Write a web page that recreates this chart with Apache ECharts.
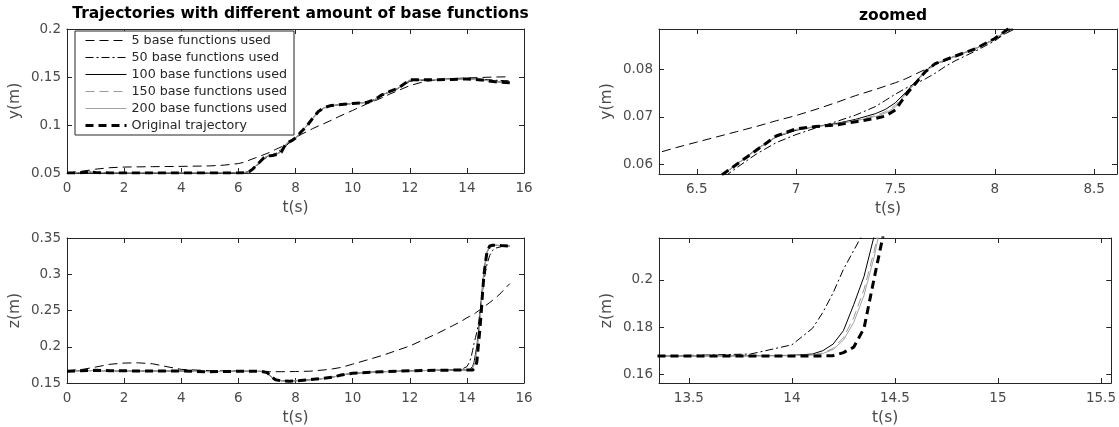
<!DOCTYPE html>
<html>
<head>
<meta charset="utf-8">
<title>Trajectories with different amount of base functions</title>
<script src="https://cdn.jsdelivr.net/npm/echarts@6/dist/echarts.min.js"></script>
<style>
  html, body { margin: 0; padding: 0; background: #fff; }
  #chart { width: 1119px; height: 427px; }
</style>
</head>
<body>
<div id="chart"></div>
<script>
// time samples (s) for the y(m) curves
const tY = [0, 0.5, 0.8, 1.0, 1.5, 2, 3, 4, 5, 5.5,
  6, 6.2, 6.4, 6.5, 6.6, 6.7, 6.8, 6.9, 7.0, 7.1,
  7.2, 7.3, 7.4, 7.45, 7.5, 7.55, 7.6, 7.65, 7.7, 7.75,
  7.8, 7.9, 8.0, 8.1, 8.2, 8.4, 8.6, 8.8, 9.0, 9.2,
  9.5, 10.0, 10.5, 10.8, 11.0, 11.3, 11.6, 12.0, 12.5, 13,
  13.5, 14, 14.5, 15, 15.5];

const yOrig = [0.0500, 0.0502, 0.0510, 0.0505, 0.0500, 0.0500, 0.0500, 0.0500, 0.0500, 0.0500,
  0.0500, 0.0502, 0.0518, 0.0540, 0.0570, 0.0600, 0.0630, 0.0660, 0.0675, 0.0680,
  0.0683, 0.0690, 0.0697, 0.0702, 0.0715, 0.0745, 0.0770, 0.0795, 0.0812, 0.0820,
  0.0828, 0.0843, 0.0865, 0.0895, 0.0930, 0.0990, 0.1070, 0.1140, 0.1180, 0.1200,
  0.1210, 0.1225, 0.1235, 0.1270, 0.1310, 0.1350, 0.1385, 0.1470, 0.1472, 0.1472,
  0.1475, 0.1480, 0.1470, 0.1450, 0.1440];

const y5 = [0.0500, 0.0518, 0.0530, 0.0540, 0.0555, 0.0562, 0.0566, 0.0569, 0.0574, 0.0582,
  0.0598, 0.0612, 0.0636, 0.0647, 0.0658, 0.0669, 0.0680, 0.0692, 0.0703, 0.0716,
  0.0730, 0.0745, 0.0758, 0.0765, 0.0772, 0.0780, 0.0790, 0.0800, 0.0810, 0.0818,
  0.0826, 0.0844, 0.0864, 0.0885, 0.0902, 0.0932, 0.0962, 0.0990, 0.1015, 0.1042,
  0.1085, 0.1152, 0.1220, 0.1255, 0.1280, 0.1322, 0.1360, 0.1410, 0.1452, 0.1473,
  0.1483, 0.1490, 0.1495, 0.1500, 0.1502];

const y50 = [0.0500, 0.0505, 0.0508, 0.0504, 0.0501, 0.0500, 0.0500, 0.0500, 0.0500, 0.0500,
  0.0500, 0.0503, 0.0515, 0.0532, 0.0562, 0.0593, 0.0622, 0.0646, 0.0663, 0.0677,
  0.0690, 0.0704, 0.0722, 0.0735, 0.0748, 0.0760, 0.0770, 0.0780, 0.0792, 0.0806,
  0.0818, 0.0838, 0.0860, 0.0890, 0.0925, 0.0992, 0.1065, 0.1135, 0.1175, 0.1195,
  0.1210, 0.1225, 0.1235, 0.1265, 0.1300, 0.1345, 0.1380, 0.1455, 0.1468, 0.1472,
  0.1476, 0.1480, 0.1476, 0.1466, 0.1460];

const y100 = [0.0500, 0.0503, 0.0509, 0.0505, 0.0500, 0.0500, 0.0500, 0.0500, 0.0500, 0.0500,
  0.0500, 0.0503, 0.0519, 0.0540, 0.0569, 0.0600, 0.0632, 0.0658, 0.0672, 0.0680,
  0.0686, 0.0695, 0.0707, 0.0716, 0.0730, 0.0751, 0.0774, 0.0796, 0.0811, 0.0820,
  0.0828, 0.0843, 0.0864, 0.0894, 0.0929, 0.0990, 0.1068, 0.1138, 0.1178, 0.1198,
  0.1210, 0.1225, 0.1236, 0.1268, 0.1308, 0.1349, 0.1384, 0.1466, 0.1471, 0.1472,
  0.1475, 0.1480, 0.1471, 0.1452, 0.1442];

const y150 = [0.0500, 0.0503, 0.0509, 0.0505, 0.0500, 0.0500, 0.0500, 0.0500, 0.0500, 0.0500,
  0.0500, 0.0503, 0.0519, 0.0540, 0.0570, 0.0600, 0.0631, 0.0659, 0.0673, 0.0680,
  0.0685, 0.0693, 0.0703, 0.0711, 0.0725, 0.0749, 0.0772, 0.0795, 0.0811, 0.0820,
  0.0828, 0.0843, 0.0864, 0.0894, 0.0929, 0.0990, 0.1069, 0.1139, 0.1179, 0.1199,
  0.1210, 0.1225, 0.1236, 0.1269, 0.1309, 0.1349, 0.1384, 0.1467, 0.1471, 0.1472,
  0.1475, 0.1480, 0.1471, 0.1451, 0.1441];

const y200 = [0.0500, 0.0503, 0.0509, 0.0505, 0.0500, 0.0500, 0.0500, 0.0500, 0.0500, 0.0500,
  0.0500, 0.0502, 0.0518, 0.0540, 0.0570, 0.0600, 0.0631, 0.0659, 0.0674, 0.0680,
  0.0684, 0.0692, 0.0701, 0.0708, 0.0721, 0.0747, 0.0771, 0.0795, 0.0811, 0.0820,
  0.0828, 0.0843, 0.0864, 0.0894, 0.0929, 0.0990, 0.1069, 0.1139, 0.1179, 0.1199,
  0.1210, 0.1225, 0.1236, 0.1269, 0.1309, 0.1349, 0.1384, 0.1468, 0.1471, 0.1472,
  0.1475, 0.1480, 0.1471, 0.1451, 0.1441];

// time samples (s) for the z(m) curves
const tZ = [0, 0.5, 1, 1.5, 2, 2.5, 3, 3.5, 4, 5,
  6, 6.8, 7.0, 7.1, 7.2, 7.3, 7.5, 7.8, 8.0, 8.5,
  9.0, 9.3, 9.6, 10, 11, 12, 13, 13.5, 13.8, 14.0,
  14.1, 14.15, 14.2, 14.25, 14.3, 14.35, 14.4, 14.45, 14.5, 14.55,
  14.6, 14.7, 14.8, 14.9, 15.0, 15.2, 15.5];

const zOrig = [0.1662, 0.1668, 0.1675, 0.1670, 0.1668, 0.1666, 0.1665, 0.1664, 0.1665, 0.1655,
  0.1662, 0.1660, 0.1645, 0.1610, 0.1572, 0.1545, 0.1530, 0.1525, 0.1530, 0.1545,
  0.1565, 0.1580, 0.1610, 0.1635, 0.1655, 0.1668, 0.1675, 0.1678, 0.1678, 0.1678,
  0.1678, 0.1678, 0.1679, 0.1692, 0.1715, 0.1795, 0.2010, 0.2220, 0.2460, 0.2750,
  0.3000, 0.3300, 0.3390, 0.3400, 0.3400, 0.3395, 0.3390];

const z5 = [0.1670, 0.1685, 0.1720, 0.1758, 0.1775, 0.1778, 0.1765, 0.1725, 0.1688, 0.1670,
  0.1662, 0.1658, 0.1657, 0.1656, 0.1656, 0.1656, 0.1656, 0.1657, 0.1658, 0.1663,
  0.1680, 0.1695, 0.1715, 0.1760, 0.1875, 0.2010, 0.2190, 0.2290, 0.2350, 0.2400,
  0.2420, 0.2430, 0.2440, 0.2450, 0.2465, 0.2480, 0.2495, 0.2505, 0.2520, 0.2535,
  0.2550, 0.2580, 0.2610, 0.2640, 0.2670, 0.2745, 0.2870];

const z50 = [0.1668, 0.1672, 0.1670, 0.1668, 0.1667, 0.1666, 0.1664, 0.1662, 0.1664, 0.1658,
  0.1662, 0.1660, 0.1640, 0.1600, 0.1565, 0.1545, 0.1535, 0.1530, 0.1532, 0.1546,
  0.1562, 0.1580, 0.1608, 0.1633, 0.1656, 0.1670, 0.1676, 0.1680, 0.1686, 0.1725,
  0.1795, 0.1862, 0.1945, 0.2045, 0.2125, 0.2205, 0.2310, 0.2450, 0.2610, 0.2770,
  0.2920, 0.3130, 0.3260, 0.3330, 0.3360, 0.3380, 0.3400];

const z100 = [0.1665, 0.1670, 0.1673, 0.1670, 0.1668, 0.1666, 0.1665, 0.1664, 0.1664, 0.1657,
  0.1662, 0.1660, 0.1643, 0.1605, 0.1568, 0.1545, 0.1532, 0.1527, 0.1531, 0.1545,
  0.1564, 0.1580, 0.1609, 0.1634, 0.1655, 0.1668, 0.1675, 0.1678, 0.1679, 0.1680,
  0.1686, 0.1700, 0.1728, 0.1785, 0.1895, 0.2015, 0.2190, 0.2400, 0.2620, 0.2850,
  0.3050, 0.3300, 0.3380, 0.3400, 0.3400, 0.3395, 0.3390];

const z150 = [0.1665, 0.1670, 0.1673, 0.1670, 0.1668, 0.1666, 0.1665, 0.1664, 0.1664, 0.1657,
  0.1662, 0.1660, 0.1644, 0.1607, 0.1570, 0.1545, 0.1531, 0.1526, 0.1531, 0.1545,
  0.1564, 0.1580, 0.1609, 0.1634, 0.1655, 0.1668, 0.1675, 0.1678, 0.1678, 0.1679,
  0.1682, 0.1690, 0.1710, 0.1755, 0.1840, 0.1960, 0.2125, 0.2340, 0.2580, 0.2820,
  0.3030, 0.3300, 0.3385, 0.3400, 0.3400, 0.3395, 0.3390];

const z200 = [0.1665, 0.1670, 0.1673, 0.1670, 0.1668, 0.1666, 0.1665, 0.1664, 0.1664, 0.1657,
  0.1662, 0.1660, 0.1644, 0.1608, 0.1571, 0.1545, 0.1531, 0.1526, 0.1530, 0.1545,
  0.1564, 0.1580, 0.1609, 0.1634, 0.1655, 0.1668, 0.1675, 0.1678, 0.1678, 0.1679,
  0.1681, 0.1688, 0.1705, 0.1745, 0.1820, 0.1935, 0.2100, 0.2310, 0.2560, 0.2800,
  0.3020, 0.3300, 0.3388, 0.3400, 0.3400, 0.3395, 0.3390];

const names = ["5 base functions used", "50 base functions used", "100 base functions used",
  "150 base functions used", "200 base functions used", "Original trajectory"];

// tick labels
const ticksFullX = [0, 2, 4, 6, 8, 10, 12, 14, 16];
const ticksFullY = [0.05, 0.1, 0.15, 0.2];
const ticksFullZ = [0.15, 0.2, 0.25, 0.3, 0.35];
const ticksZoomYX = [6.5, 7, 7.5, 8, 8.5];
const ticksZoomYY = [0.06, 0.07, 0.08];
const ticksZoomZX = [13.5, 14, 14.5, 15, 15.5];
const ticksZoomZY = [0.16, 0.18, 0.2];

const FONT = "DejaVu Sans";
const AXIS = "#262626";
const LABEL = "#4a4a4a";

const styles = [
  { color: "#000", width: 1, type: [9, 5] },
  { color: "#000", width: 1, type: [8, 3, 2, 3] },
  { color: "#000", width: 1, type: "solid" },
  { color: "#9a9a9a", width: 1, type: [9, 5] },
  { color: "#a3a3a3", width: 1, type: "solid" },
  { color: "#000", width: 3, type: [8, 5] },
];

const grids = [
  { left: 67, top: 29, width: 457, height: 144 },
  { left: 67, top: 238, width: 457, height: 145 },
  { left: 659, top: 29, width: 458, height: 145 },
  { left: 659, top: 238, width: 458, height: 145 },
];

const ranges = [
  { x: [0, 16], y: [0.05, 0.2], xt: ticksFullX, yt: ticksFullY, yName: "y(m)" },
  { x: [0, 16], y: [0.15, 0.35], xt: ticksFullX, yt: ticksFullZ, yName: "z(m)" },
  { x: [6.31, 8.615], y: [0.058, 0.0885], xt: ticksZoomYX, yt: ticksZoomYY, yName: "y(m)" },
  { x: [13.355, 15.55], y: [0.1563, 0.2178], xt: ticksZoomZX, yt: ticksZoomZY, yName: "z(m)" },
];

const xAxes = [];
const yAxes = [];
ranges.forEach(function (r, g) {
  const line = { show: true, onZero: false, lineStyle: { color: AXIS, width: 1 } };
  const tick = { show: true, inside: true, length: 5, lineStyle: { color: AXIS } };
  xAxes.push({
    gridIndex: g, type: "value", position: "bottom", min: r.x[0], max: r.x[1],
    axisLine: line, axisTick: Object.assign({ customValues: r.xt }, tick),
    axisLabel: { customValues: r.xt, margin: 8, color: LABEL, fontSize: 13.5, fontFamily: FONT },
    splitLine: { show: false },
    name: "t(s)", nameLocation: "middle", nameGap: 27,
    nameTextStyle: { color: LABEL, fontSize: 15.5, fontFamily: FONT },
  });
  xAxes.push({
    gridIndex: g, type: "value", position: "top", min: r.x[0], max: r.x[1],
    axisLine: line, axisTick: Object.assign({ customValues: r.xt }, tick),
    axisLabel: { show: false }, splitLine: { show: false },
  });
  yAxes.push({
    gridIndex: g, type: "value", position: "left", min: r.y[0], max: r.y[1],
    axisLine: line, axisTick: Object.assign({ customValues: r.yt }, tick),
    axisLabel: { customValues: r.yt, margin: 6, color: LABEL, fontSize: 13.5, fontFamily: FONT },
    splitLine: { show: false },
    name: r.yName, nameLocation: "middle", nameGap: 44,
    nameTextStyle: { color: LABEL, fontSize: 15.5, fontFamily: FONT },
  });
  yAxes.push({
    gridIndex: g, type: "value", position: "right", min: r.y[0], max: r.y[1],
    axisLine: line, axisTick: Object.assign({ customValues: r.yt }, tick),
    axisLabel: { show: false }, splitLine: { show: false },
  });
});

function mk(i, ts, vs, g) {
  return {
    name: names[i],
    type: "line",
    xAxisIndex: g * 2,
    yAxisIndex: g * 2,
    data: ts.map(function (t, k) { return [t, vs[k]]; }),
    symbol: "none",
    clip: true,
    silent: true,
    color: styles[i].color,
    itemStyle: { opacity: 0 },
    lineStyle: styles[i],
  };
}

const yData = [y5, y50, y100, y150, y200, yOrig];
const zData = [z5, z50, z100, z150, z200, zOrig];
const series = [];
[0, 2].forEach(function (g) {
  yData.forEach(function (vs, i) { series.push(mk(i, tY, vs, g)); });
});
[1, 3].forEach(function (g) {
  zData.forEach(function (vs, i) { series.push(mk(i, tZ, vs, g)); });
});

const chart = echarts.init(document.getElementById("chart"));
chart.setOption({
  animation: false,
  backgroundColor: "#fff",
  title: [
    {
      text: "Trajectories with different amount of base functions",
      left: 295.5, top: 1, textAlign: "center",
      textStyle: { fontSize: 15.5, fontWeight: "bold", color: "#000", fontFamily: FONT },
    },
    {
      text: "zoomed",
      left: 888, top: 3, textAlign: "center",
      textStyle: { fontSize: 15.5, fontWeight: "bold", color: "#000", fontFamily: FONT },
    },
  ],
  legend: {
    data: names,
    orient: "vertical",
    left: 75, top: 31,
    itemWidth: 41, itemHeight: 13, itemGap: 4,
    padding: [3, 7, 3, 9],
    borderColor: AXIS, borderWidth: 1,
    backgroundColor: "#fff",
    selectedMode: false,
    itemStyle: { opacity: 0 },
    lineStyle: { width: "inherit", type: "inherit" },
    textStyle: { fontSize: 12.7, color: "#262626", fontFamily: FONT },
  },
  grid: grids,
  xAxis: xAxes,
  yAxis: yAxes,
  series: series,
});
</script>
</body>
</html>
